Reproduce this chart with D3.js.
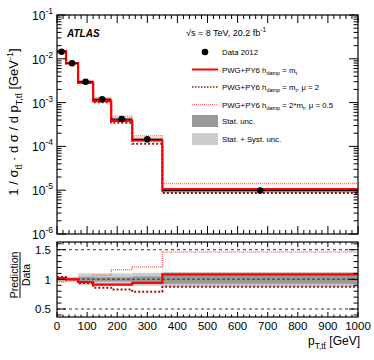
<!DOCTYPE html>
<html><head><meta charset="utf-8">
<script src="https://cdn.jsdelivr.net/npm/d3@7"></script>
<style>body{margin:0;background:#fff}svg{display:block}text{font-family:"Liberation Sans",Arial,sans-serif}</style>
</head><body><svg id="c" width="374" height="360"></svg>
<script>
const binEdges = [0, 30, 70, 120, 180, 250, 350, 1000];
const dataValues = [0.0145, 0.0079, 0.0030, 0.00119, 0.00042, 0.000145, 0.0000098];
const ratioNominal = [1.02, 1.0, 0.955, 0.91, 0.91, 0.94, 1.085];
const ratioMu2 = [1.04, 1.0, 0.94, 0.86, 0.83, 0.79, 0.875];
const ratioMu05 = [0.96, 1.0, 1.03, 1.07, 1.16, 1.21, 1.46];
const statUnc = [0.02, 0.015, 0.04, 0.035, 0.035, 0.05, 0.075];
const totalUnc = [0.05, 0.04, 0.1, 0.1, 0.1, 0.11, 0.125];
const xTickValues = [0, 100, 200, 300, 400, 500, 600, 700, 800, 900, 1000];
const yTickExps = [-6, -5, -4, -3, -2, -1];
const ratioTicks = [0.5, 1, 1.5];
const legendLabels = ["Data 2012", "PWG+PY6 h|damp| = m|t|", "PWG+PY6 h|damp| = m|t|, μ = 2", "PWG+PY6 h|damp| = 2*m|t|, μ = 0.5", "Stat. unc.", "Stat. + Syst. unc."];

const svg = d3.select("#c");
const X0 = 57, X1 = 358;
const x = d3.scaleLinear().domain([0, 1000]).range([X0, X1]);
const y = d3.scaleLog().domain([1e-6, 1e-1]).range([234, 15]);
const yr = d3.scaleLinear().domain([0.365, 1.63]).range([317, 242]);

const RED = "#ff0000", DRED = "#a01010", PINK = "#ff7070";
const DARK = "#999999", LIGHT = "#cccccc";

const bins = dataValues.map((v, i) => ({lo: binEdges[i], hi: binEdges[i+1], v, i}));

function stepPts(vals) {
  const p = vals.map((v, i) => [binEdges[i], v]);
  p.push([binEdges[binEdges.length-1], vals[vals.length-1]]);
  return p;
}

const main = svg.append("g");
main.append("defs").append("clipPath").attr("id","cm").append("rect").attr("x",X0).attr("y",15).attr("width",X1-X0).attr("height",219);
main.append("defs").append("clipPath").attr("id","cr").append("rect").attr("x",X0).attr("y",242).attr("width",X1-X0).attr("height",75);

const mg = main.append("g").attr("clip-path","url(#cm)");
mg.selectAll("rect.tot").data(bins).join("rect")
  .attr("x", d => x(d.lo)).attr("width", d => x(d.hi)-x(d.lo))
  .attr("y", d => y(d.v*(1+totalUnc[d.i]))).attr("height", d => y(d.v*(1-totalUnc[d.i])) - y(d.v*(1+totalUnc[d.i])))
  .attr("fill", LIGHT);
mg.selectAll("rect.st").data(bins).join("rect")
  .attr("x", d => x(d.lo)).attr("width", d => x(d.hi)-x(d.lo))
  .attr("y", d => y(d.v*(1+statUnc[d.i]))).attr("height", d => y(d.v*(1-statUnc[d.i])) - y(d.v*(1+statUnc[d.i])))
  .attr("fill", DARK);

const lineMain = d3.line().x(d => x(d[0])).y(d => y(d[1])).curve(d3.curveStepAfter);
mg.append("path").attr("d", lineMain(stepPts(dataValues.map((v,i)=>v*ratioMu05[i]))))
  .attr("fill","none").attr("stroke",PINK).attr("stroke-width",1.5).attr("stroke-dasharray","1,1");
mg.append("path").attr("d", lineMain(stepPts(dataValues.map((v,i)=>v*ratioMu2[i]))))
  .attr("fill","none").attr("stroke",DRED).attr("stroke-width",2).attr("stroke-dasharray","2,2");
mg.append("path").attr("d", lineMain(stepPts(dataValues.map((v,i)=>v*ratioNominal[i]))))
  .attr("fill","none").attr("stroke",RED).attr("stroke-width",2.2);
mg.selectAll("line.xe").data(bins).join("line")
  .attr("x1", d => x(d.lo)).attr("x2", d => x(d.hi)).attr("y1", d => y(d.v)).attr("y2", d => y(d.v))
  .attr("stroke","#000").attr("stroke-width",1);
mg.selectAll("circle").data(bins).join("circle")
  .attr("cx", d => x((d.lo+d.hi)/2)).attr("cy", d => y(d.v)).attr("r",3.3).attr("fill","#000");

const rg = main.append("g").attr("clip-path","url(#cr)");
rg.selectAll("rect.tot").data(bins).join("rect")
  .attr("x", d => x(d.lo)).attr("width", d => x(d.hi)-x(d.lo))
  .attr("y", d => yr(1+totalUnc[d.i])).attr("height", d => yr(1-totalUnc[d.i]) - yr(1+totalUnc[d.i]))
  .attr("fill", LIGHT);
rg.selectAll("rect.st").data(bins).join("rect")
  .attr("x", d => x(d.lo)).attr("width", d => x(d.hi)-x(d.lo))
  .attr("y", d => yr(1+statUnc[d.i])).attr("height", d => yr(1-statUnc[d.i]) - yr(1+statUnc[d.i]))
  .attr("fill", DARK);
[0.5, 1.5].forEach(v => rg.append("line").attr("x1",X0).attr("x2",X1).attr("y1",yr(v)).attr("y2",yr(v))
  .attr("stroke","#000").attr("stroke-width",0.8).attr("stroke-dasharray","3,3"));
rg.append("line").attr("x1",X0).attr("x2",X1).attr("y1",yr(1)).attr("y2",yr(1))
  .attr("stroke","#555").attr("stroke-width",1.5).attr("stroke-dasharray","3,2");
const lineR = d3.line().x(d => x(d[0])).y(d => yr(d[1])).curve(d3.curveStepAfter);
rg.append("path").attr("d", lineR(stepPts(ratioMu05))).attr("fill","none").attr("stroke",PINK).attr("stroke-width",1.5).attr("stroke-dasharray","1,1");
rg.append("path").attr("d", lineR(stepPts(ratioMu2))).attr("fill","none").attr("stroke",DRED).attr("stroke-width",2).attr("stroke-dasharray","2,2");
rg.append("path").attr("d", lineR(stepPts(ratioNominal))).attr("fill","none").attr("stroke",RED).attr("stroke-width",2.2);

const ax = svg.append("g").attr("stroke","#000").attr("stroke-width",1);
function tick(g, x1, y1, x2, y2) { g.append("line").attr("x1",x1).attr("y1",y1).attr("x2",x2).attr("y2",y2); }
[[15,234],[242,317]].forEach(([t,b]) => {
  svg.append("rect").attr("x",X0).attr("y",t).attr("width",X1-X0).attr("height",b-t)
    .attr("fill","none").attr("stroke","#000").attr("stroke-width",1.2);
});
const xMinor = d3.range(0, 1001, 20);
[[15,234,8,4],[242,317,5,2.5]].forEach(([t,b,M,m]) => {
  xMinor.forEach(v => {
    const L = (v % 100 === 0) ? M : m;
    tick(ax, x(v), b, x(v), b-L);
    tick(ax, x(v), t, x(v), t+L);
  });
});
yTickExps.forEach(e => {
  const v = Math.pow(10, e);
  tick(ax, X0, y(v), X0+9, y(v)); tick(ax, X1, y(v), X1-9, y(v));
  if (e < -1) for (let k = 2; k <= 9; k++) {
    const mv = k*v; tick(ax, X0, y(mv), X0+4.5, y(mv)); tick(ax, X1, y(mv), X1-4.5, y(mv));
  }
});
d3.range(0.4, 1.61, 0.1).forEach(v => {
  const isM = ratioTicks.some(t => Math.abs(t - v) < 1e-6);
  const L = isM ? 9 : 4.5;
  tick(ax, X0, yr(v), X0+L, yr(v)); tick(ax, X1, yr(v), X1-L, yr(v));
});

const FS = 11.5;
yTickExps.forEach(e => {
  const t = svg.append("text").attr("x", 53).attr("y", y(Math.pow(10,e))+5).attr("text-anchor","end").attr("font-size",12);
  t.append("tspan").text("10");
  t.append("tspan").attr("dy",-6).attr("font-size",8.5).text(String(e));
});
ratioTicks.forEach(v => svg.append("text").attr("x",51).attr("y",yr(v)+4.5).attr("text-anchor","end").attr("font-size",FS).text(d3.format("")(v)));
xTickValues.forEach(v => svg.append("text").attr("x",x(v)).attr("y",330).attr("text-anchor","middle").attr("font-size",FS).text(v));

const xt = svg.append("text").attr("x",360).attr("y",345).attr("text-anchor","end").attr("font-size",12);
xt.append("tspan").text("p");
xt.append("tspan").attr("dy",4).attr("font-size",8.5).text("T,tt\u0304");
xt.append("tspan").attr("dy",-4).text(" [GeV]");

const yt = svg.append("text").attr("transform","translate(18,122) rotate(-90)").attr("text-anchor","middle").attr("font-size",13);
yt.append("tspan").text("1 / σ");
yt.append("tspan").attr("dy",4).attr("font-size",9).text("tt\u0304");
yt.append("tspan").attr("dy",-4).text(" · d σ / d p");
yt.append("tspan").attr("dy",4).attr("font-size",9).text("T,tt\u0304");
yt.append("tspan").attr("dy",-4).text(" [GeV");
yt.append("tspan").attr("dy",-5).attr("font-size",9).text("-1");
yt.append("tspan").attr("dy",5).text("]");

const rtg = svg.append("g").attr("transform","translate(0,275) rotate(-90)");
rtg.append("text").attr("x",0).attr("y",17.5).attr("text-anchor","middle").attr("font-size",10.5).text("Prediction");
rtg.append("line").attr("x1",-23).attr("x2",23).attr("y1",20).attr("y2",20).attr("stroke","#000").attr("stroke-width",1);
rtg.append("text").attr("x",0).attr("y",29.5).attr("text-anchor","middle").attr("font-size",10.5).text("Data");

svg.append("text").attr("x",67).attr("y",37).attr("font-size",10).attr("font-weight","bold").attr("font-style","italic").text("ATLAS");
const en = svg.append("text").attr("x",186).attr("y",36).attr("font-size",9);
en.append("tspan").text("\u221As = 8 TeV, 20.2 fb");
en.append("tspan").attr("dy",-4).attr("font-size",6.5).text("-1");

const LX = 222, LFS = 7.8;
const legY = [52, 69.5, 87, 104.5, 121, 139];
function richText(sel, str) {
  const parts = str.split("|");
  parts.forEach((p, i) => {
    if (!p) return;
    const sub = i % 2 === 1;
    const ts = sel.append("tspan").text(p).attr("font-size", sub ? 5.5 : LFS);
    if (sub) ts.attr("dy", 2); else if (i > 0) ts.attr("dy", -2);
  });
}
legendLabels.forEach((lab, i) => {
  const t = svg.append("text").attr("x",LX).attr("y",legY[i]+3).attr("font-size",LFS);
  richText(t, lab);
});
svg.append("circle").attr("cx",205).attr("cy",legY[0]).attr("r",3.3).attr("fill","#000");
svg.append("line").attr("x1",192).attr("x2",218).attr("y1",legY[1]).attr("y2",legY[1]).attr("stroke",RED).attr("stroke-width",2);
svg.append("line").attr("x1",192).attr("x2",218).attr("y1",legY[2]).attr("y2",legY[2]).attr("stroke",DRED).attr("stroke-width",1.5).attr("stroke-dasharray","1.5,1.5");
svg.append("line").attr("x1",192).attr("x2",218).attr("y1",legY[3]).attr("y2",legY[3]).attr("stroke",PINK).attr("stroke-width",1.2).attr("stroke-dasharray","1,1");
svg.append("rect").attr("x",192).attr("y",legY[4]-6).attr("width",26).attr("height",12).attr("fill",DARK);
svg.append("rect").attr("x",192).attr("y",legY[5]-6).attr("width",26).attr("height",12).attr("fill",LIGHT);
</script></body></html>
